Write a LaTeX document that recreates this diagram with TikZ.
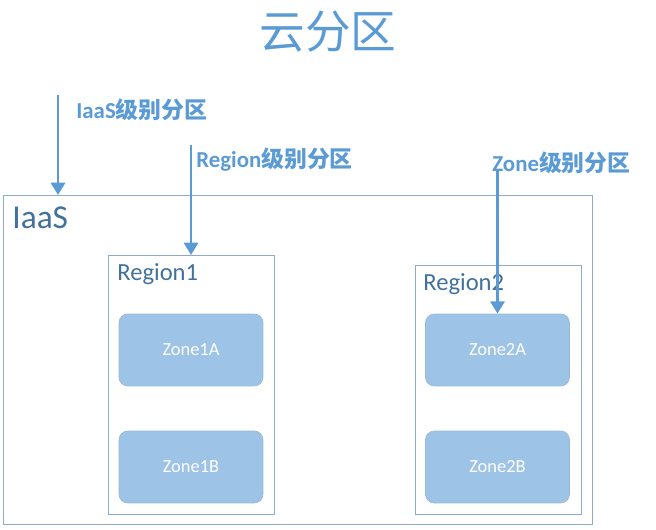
\documentclass[tikz,border=0pt]{standalone}
\usepackage{fontspec}
\setmainfont{Carlito}
\newfontfamily\cjk{Noto Sans CJK SC}
\usetikzlibrary{arrows.meta}

\definecolor{arrowblue}{HTML}{5B9BD5}
\definecolor{framecol}{HTML}{8EAACB}
\definecolor{labelcol}{HTML}{41719C}
\definecolor{zonefill}{HTML}{9DC3E6}

\tikzset{
    frame/.style={draw=framecol,line width=0.8pt,anchor=north west,inner sep=0pt},
    framelabel/.style={text=labelcol,anchor=base west,inner sep=0pt},
    zone/.style={fill=zonefill,draw=zonefill!85!gray,line width=0.4pt,rounded corners=5pt,
        minimum width=2.88cm,minimum height=1.44cm,text=white,font=\fontsize{10.5}{12}\selectfont},
    levelarrow/.style={draw=arrowblue,line width=1.7pt,-{Triangle[width=8pt,length=7pt]}},
    levellabel/.style={text=arrowblue,anchor=west,inner sep=0pt,font=\bfseries\fontsize{13}{15}\selectfont}
}

\begin{document}
\begin{tikzpicture}[x=0.02cm,y=-0.02cm]
    \useasboundingbox (0,0) rectangle (656,530);

    % Title
    \node[text=arrowblue,font=\cjk\fontsize{26}{30}\selectfont] (title) at (328,32) {云分区};

    % Frames
    \node[frame,minimum width=11.78cm,minimum height=6.58cm] (iaas) at (3,195) {};
    \node[frame,minimum width=3.32cm,minimum height=5.18cm] (region1) at (108,255) {};
    \node[frame,minimum width=3.32cm,minimum height=4.98cm] (region2) at (415,265) {};

    \node[framelabel,font=\fontsize{19}{22}\selectfont] (iaaslabel) at (12,229) {IaaS};
    \node[framelabel,font=\fontsize{14}{16}\selectfont] (r1label) at (117,280) {Region1};
    \node[framelabel,font=\fontsize{14}{16}\selectfont] (r2label) at (423,291) {Region2};

    % Zones
    \node[zone] (zone1a) at (191,350) {Zone1A};
    \node[zone] (zone1b) at (191,467) {Zone1B};
    \node[zone] (zone2a) at (497.5,350) {Zone2A};
    \node[zone] (zone2b) at (497.5,467) {Zone2B};

    % Level arrows
    \coordinate (a1) at (58,95);
    \coordinate (a2) at (191,145);
    \coordinate (a3) at (497.5,170);
    \draw[levelarrow] (a1) -- (a1 |- iaas.north);
    \draw[levelarrow] (a2) -- (a2 |- region1.north);
    \draw[levelarrow] (a3) -- (zone2a.north);

    % Labels
    \node[levellabel] (l1) at (76,110) {IaaS{\cjk 级别分区}};
    \node[levellabel] (l2) at (196,160) {Region{\cjk 级别分区}};
    \node[levellabel] (l3) at (492,163) {Zone{\cjk 级别分区}};
\end{tikzpicture}
\end{document}
